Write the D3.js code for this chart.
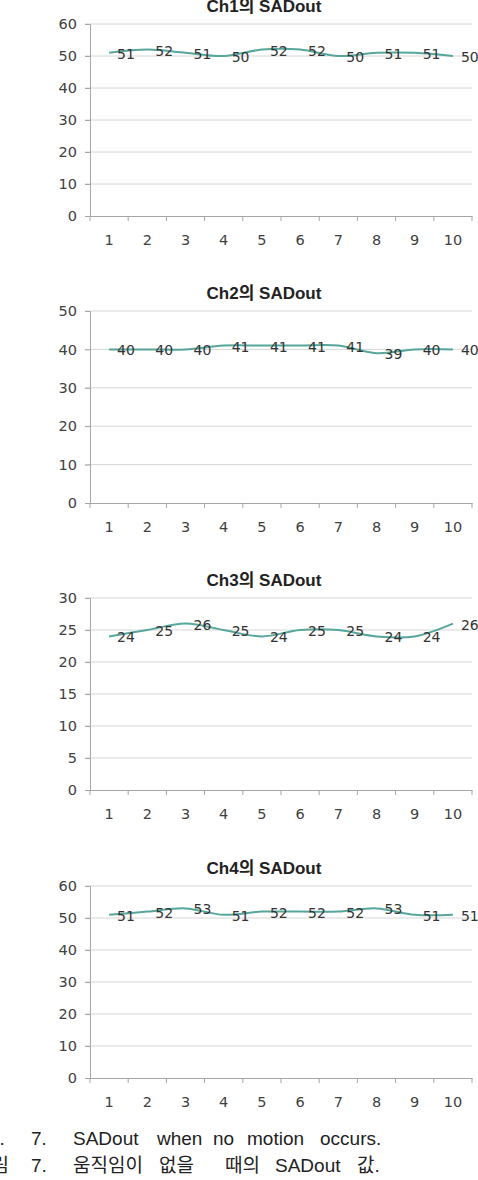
<!DOCTYPE html>
<html>
<head>
<meta charset="utf-8">
<script src="https://cdn.jsdelivr.net/npm/d3@7"></script>
<style>
  body { margin: 0; background: #fff; }
  svg { display: block; }
</style>
</head>
<body>
<div id="chart"></div>
<script>
// sample numbers on the x axis
const samples = [1, 2, 3, 4, 5, 6, 7, 8, 9, 10];

// SADout per channel
const ch1 = [51, 52, 51, 50, 52, 52, 50, 51, 51, 50];
const ch2 = [40, 40, 40, 41, 41, 41, 41, 39, 40, 40];
const ch3 = [24, 25, 26, 25, 24, 25, 25, 24, 24, 26];
const ch4 = [51, 52, 53, 51, 52, 52, 52, 53, 51, 51];

const titles = ["Ch1의 SADout", "Ch2의 SADout", "Ch3의 SADout", "Ch4의 SADout"];
const yMax = [60, 50, 30, 60];
const yStep = [10, 10, 5, 10];

// caption, one word per entry
const caption1 = ["Fig.", "7.", "SADout", "when", "no", "motion", "occurs."];
const caption2 = ["그림", "7.", "움직임이", "없을", "때의", "SADout", "값."];

// set the dimensions of the page
const W = 478, H = 1180;
const left = 90, right = 472, plotH = 192;
const plotTops = [24, 311, 598, 886];
const lineColor = "#57a69c";
const textColor = "#404040";

const svg = d3.select("#chart")
  .append("svg")
    .attr("width", W)
    .attr("height", H);

const series = [ch1, ch2, ch3, ch4];

series.forEach(function(values, i) {
  const top = plotTops[i];
  const g = svg.append("g").attr("transform", "translate(0," + top + ")");

  // x scale: one band per sample
  const x = d3.scaleBand()
    .domain(samples)
    .range([left, right]);

  const y = d3.scaleLinear()
    .domain([0, yMax[i]])
    .range([plotH, 0]);

  const ticks = d3.range(0, yMax[i] + yStep[i] / 2, yStep[i]);

  // gridlines (also act as the little left tick marks)
  g.selectAll(".grid")
    .data(ticks.filter(function(t) { return t > 0; }))
    .enter().append("line")
      .attr("x1", left - 5)
      .attr("x2", right)
      .attr("y1", function(d) { return y(d); })
      .attr("y2", function(d) { return y(d); })
      .attr("stroke", "#d6d6d6")
      .attr("stroke-width", 1);

  // y axis
  const yAxis = g.append("g")
    .attr("transform", "translate(" + left + ",0)")
    .call(d3.axisLeft(y).tickValues(ticks).tickSize(5).tickPadding(8));
  yAxis.select(".domain").attr("stroke", "#a6a6a6");
  yAxis.selectAll(".tick line").attr("stroke", "#a6a6a6");
  yAxis.selectAll("text")
    .attr("fill", textColor)
    .style("font-family", "'DejaVu Sans', sans-serif")
    .style("font-size", "14.5px");

  // x axis, ticks between categories
  const xAxis = g.append("g")
    .attr("transform", "translate(0," + plotH + ")")
    .call(d3.axisBottom(x).tickSize(0).tickPadding(19));
  xAxis.select(".domain").attr("stroke", "#a6a6a6");
  xAxis.selectAll("text")
    .attr("fill", textColor)
    .style("font-family", "'DejaVu Sans', sans-serif")
    .style("font-size", "14.5px");
  xAxis.selectAll(".sep")
    .data(samples.concat(["end"]))
    .enter().append("line")
      .attr("x1", function(d) { return d === "end" ? right : x(d); })
      .attr("x2", function(d) { return d === "end" ? right : x(d); })
      .attr("y1", 0)
      .attr("y2", 5)
      .attr("stroke", "#a6a6a6");

  // smoothed line
  const line = d3.line()
    .x(function(d, k) { return x(samples[k]) + x.bandwidth() / 2; })
    .y(function(d) { return y(d); })
    .curve(d3.curveCatmullRom.alpha(0.5));

  g.append("path")
    .datum(values)
    .attr("fill", "none")
    .attr("stroke", lineColor)
    .attr("stroke-width", 2)
    .attr("d", line);

  // data labels, to the right of each point
  g.selectAll(".lbl")
    .data(values)
    .enter().append("text")
      .attr("x", function(d, k) { return x(samples[k]) + x.bandwidth() / 2 + 8; })
      .attr("y", function(d) { return y(d) + 2; })
      .attr("dominant-baseline", "middle")
      .attr("fill", "#333")
      .style("font-family", "'DejaVu Sans', sans-serif")
      .style("font-size", "14px")
      .text(function(d) { return d; });

  // title
  svg.append("text")
    .attr("x", 264)
    .attr("y", top - 12)
    .attr("text-anchor", "middle")
    .attr("fill", "#222")
    .style("font-family", "'Liberation Sans', 'Noto Sans CJK KR', sans-serif")
    .style("font-weight", "bold")
    .style("font-size", "17px")
    .text(titles[i]);
});

// caption, words placed like the justified print (left edge partly off the page)
const cap1X = [-27, 31, 73, 157, 213, 247, 320];
const cap2X = [-26, 31, 73, 159, 225, 275, 357];

function drawCaption(words, xs, baseline) {
  svg.selectAll(null)
    .data(words)
    .enter().append("text")
      .attr("x", function(d, k) { return xs[k]; })
      .attr("y", baseline)
      .attr("fill", "#222")
      .style("font-family", "'Liberation Sans', 'Noto Sans CJK KR', sans-serif")
      .style("font-size", "19px")
      .text(function(d) { return d; });
}
drawCaption(caption1, cap1X, 1145);
drawCaption(caption2, cap2X, 1172);
</script>
</body>
</html>
